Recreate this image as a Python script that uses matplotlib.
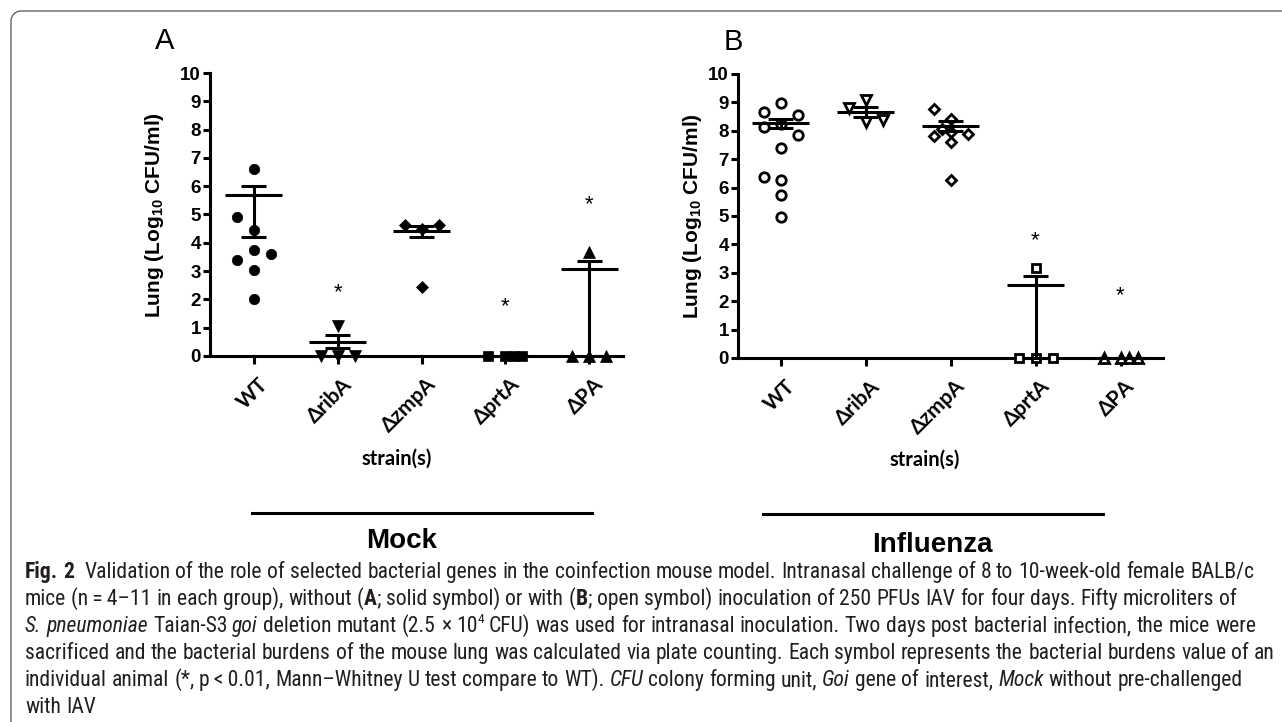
import re
import numpy as np
import matplotlib
matplotlib.use('Agg')
import matplotlib.pyplot as plt
from matplotlib import font_manager
from matplotlib.path import Path
from matplotlib.patches import PathPatch
import matplotlib.transforms as mtransforms

# ---- data (Log10 CFU/ml in lung, one value per animal) ----
strains = ['WT', 'ΔribA', 'ΔzmpA', 'ΔprtA', 'ΔPA']

# A: mock (solid symbols)
mock_wt = [6.6, 4.45, 4.9, 3.75, 3.05, 3.4, 3.6, 2.0]
mock_ribA = [1.05, 0.0, 0.0, 0.0]
mock_zmpA = [4.5, 4.63, 4.63, 2.43]
mock_prtA = [0.0, 0.0, 0.0, 0.0]
mock_PA = [3.67, 0.0, 0.0, 0.0]
mock_mean = [5.7, 0.51, 4.42, 0.0, 3.08]
mock_lo = [4.22, 0.28, 4.22, 0.0, 0.0]
mock_hi = [6.02, 0.74, 4.6, 0.0, 3.37]
mock_star = [None, 2.49, None, 2.0, 5.6]

# B: influenza (open symbols)
flu_wt = [8.98, 8.66, 8.55, 8.25, 8.15, 7.85, 7.4, 6.25, 6.38, 5.75, 4.97]
flu_ribA = [9.08, 8.79, 8.32, 8.38]
flu_zmpA = [8.4, 8.75, 7.6, 7.8, 7.88, 8.05, 6.26, 7.95]
flu_prtA = [3.18, 0.0, 0.0, 0.0]
flu_PA = [0.0, 0.0, 0.0, 0.0]
flu_mean = [8.28, 8.67, 8.17, 2.56, 0.0]
flu_lo = [8.1, 8.5, 8.0, 0.0, 0.0]
flu_hi = [8.43, 8.85, 8.35, 2.88, 0.0]
flu_star = [None, None, None, 4.38, 2.44]

markers = ['o', 'v', 'D', 's', '^']
msizes = [7.5, 8.5, 6.0, 7.0, 8.5]

W, H = 1282, 722
plt.rcParams['font.family'] = ['Liberation Sans', 'DejaVu Sans']
plt.rcParams['mathtext.default'] = 'regular'

names = {f.name for f in font_manager.fontManager.ttflist}
cap_font = 'DejaVu Sans'
for cand in ['Liberation Sans Narrow', 'Roboto Condensed', 'Open Sans Condensed', 'DejaVu Sans']:
    if cand in names:
        cap_font = cand
        break
lbl_font = ['Lato', 'DejaVu Sans'] if 'Lato' in names else ['Open Sans', 'DejaVu Sans']

fig = plt.figure(figsize=(W / 100, H / 100), dpi=100)


def fx(px):
    return px / W


def fy(py):
    return 1 - py / H


def swarm(ax, xc, vals, step=17, mind=13):
    # greedy column scatter in pixel space
    placed = []
    out = []
    for v in vals:
        px, py = ax.transData.transform((xc, v))
        pick = None
        for s in [0, -1, 1]:
            cx = px + s * step
            if all(np.hypot(cx - qx, py - qy) >= mind for qx, qy in placed):
                pick = cx
                break
        if pick is None:
            best = -1
            for s in [0.5, -0.5, 0, -1, 1]:
                cx = px + s * step
                d = min(np.hypot(cx - qx, py - qy) for qx, qy in placed)
                if d > best + 0.01:
                    best, pick = d, cx
        placed.append((pick, py))
        out.append(ax.transData.inverted().transform((pick, py))[0])
    return out


def panel(ax, groups, mean, lo, hi, stars, filled, xlim):
    ax.set_xlim(*xlim)
    ax.set_ylim(0, 10)
    for s in ['top', 'right']:
        ax.spines[s].set_visible(False)
    for s in ['left', 'bottom']:
        ax.spines[s].set_linewidth(2.2)
    ax.set_yticks(range(11))
    ax.set_xticks(range(len(strains)))
    ax.tick_params(axis='y', length=5, width=2.2, pad=1.5, labelsize=13.5)
    ax.tick_params(axis='x', length=6, width=2.2, pad=7)
    plt.setp(ax.get_yticklabels(), fontweight='bold')
    ax.set_xticklabels(strains, rotation=45, ha='right', va='top', rotation_mode='anchor',
                       fontsize=15, fontweight='bold', family=lbl_font)
    off = mtransforms.ScaledTranslation(4 / 100, 0, fig.dpi_scale_trans)
    for t in ax.get_xticklabels():
        t.set_transform(t.get_transform() + off)

    for i, vals in enumerate(groups):
        xs = swarm(ax, i, vals)
        if filled:
            ax.plot(xs, vals, ls='none', marker=markers[i], ms=msizes[i], mfc='k', mec='k',
                    mew=0.5, clip_on=False, zorder=3)
        else:
            ax.plot(xs, vals, ls='none', marker=markers[i], ms=msizes[i] - 0.7, mfc='white', mec='k',
                    mew=2.0, clip_on=False, zorder=3)
        ax.hlines(mean[i], i - 0.34, i + 0.34, color='k', lw=2.2, zorder=4, clip_on=False)
        if hi[i] > lo[i]:
            ax.vlines(i, lo[i], hi[i], color='k', lw=2.2, zorder=4, clip_on=False)
            ax.hlines([lo[i], hi[i]], i - 0.15, i + 0.15, color='k', lw=2.2, zorder=4, clip_on=False)
        if stars[i] is not None:
            ax.annotate('*', (i, stars[i]), xytext=(0, -9), textcoords='offset points',
                        ha='center', va='baseline', fontsize=16)


axA = fig.add_axes([fx(210), fy(356), (623 - 210) / W, (356 - 73) / H])
axB = fig.add_axes([fx(738), fy(358), (1163 - 738) / W, (358 - 74) / H])

panel(axA, [mock_wt, mock_ribA, mock_zmpA, mock_prtA, mock_PA],
      mock_mean, mock_lo, mock_hi, mock_star, True, (-0.52, 4.4))
panel(axB, [flu_wt, flu_ribA, flu_zmpA, flu_prtA, flu_PA],
      flu_mean, flu_lo, flu_hi, flu_star, False, (-0.5, 4.5))

ylab = 'Lung (Log$_{10}$ CFU/ml)'
fig.text(fx(154), fy(215), ylab, rotation=90, ha='center', va='center', fontsize=15, fontweight='bold')
fig.text(fx(692), fy(216), ylab, rotation=90, ha='center', va='center', fontsize=15, fontweight='bold')

fig.text(fx(165), fy(49), 'A', ha='center', va='baseline', fontsize=21)
fig.text(fx(733), fy(50), 'B', ha='center', va='baseline', fontsize=21)

fig.text(fx(397), fy(465), 'strain(s)', ha='center', va='baseline', fontsize=14.5,
         fontweight='bold', family=lbl_font)
fig.text(fx(925), fy(466), 'strain(s)', ha='center', va='baseline', fontsize=14.5,
         fontweight='bold', family=lbl_font)

fig.add_artist(plt.Line2D([fx(252), fx(592)], [fy(513), fy(513)], color='k', lw=2.2))
fig.add_artist(plt.Line2D([fx(763), fx(1103)], [fy(514), fy(514)], color='k', lw=2.2))
fig.text(fx(402), fy(548), 'Mock', ha='center', va='baseline', fontsize=20, fontweight='bold')
fig.text(fx(932), fy(552), 'Influenza', ha='center', va='baseline', fontsize=20, fontweight='bold')

# frame (rounded top-left corner)
ang = np.linspace(np.pi, 1.5 * np.pi, 12)
pts = [(11, H + 2)] + [(21 + 10 * np.cos(a), 21 + 10 * np.sin(a)) for a in ang] + [(W + 2, 11)]
frame = PathPatch(Path([(fx(x), fy(y)) for x, y in pts]), transform=fig.transFigure,
                  fill=False, edgecolor='#555555', lw=0.9)
fig.add_artist(frame)

# caption
cap_lines = [
    [('Fig. 2', 'b'), ('  Validation of the role of selected bacterial genes in the coinfection mouse model. '
                      'Intranasal challenge of 8 to 10-week-old female BALB/c', 'n')],
    [('mice (n\u2009=\u20094\u201311 in each group), without (', 'n'), ('A', 'b'),
     ('; solid symbol) or with (', 'n'), ('B', 'b'),
     ('; open symbol) inoculation of 250 PFUs IAV for four days. Fifty microliters of', 'n')],
    [('S. pneumoniae', 'i'), (' Taian-S3 ', 'n'), ('goi', 'i'), (' deletion mutant (2.5 \u00d7 10', 'n'),
     ('4', 'sup'), (' CFU) was used for intranasal inoculation. Two days post bacterial infection, the mice were', 'n')],
    [('sacrificed and the bacterial burdens of the mouse lung was calculated via plate counting. '
      'Each symbol represents the bacterial burdens value of an', 'n')],
    [('individual animal (*, p\u2009<\u20090.01, Mann\u2013Whitney U test compare to WT). ', 'n'), ('CFU', 'i'),
     (' colony forming unit, ', 'n'), ('Goi', 'i'), (' gene of interest, ', 'n'), ('Mock', 'i'),
     (' without pre-challenged', 'n')],
    [('with IAV', 'n')],
]
cap_base = [578, 605, 632, 659, 686, 713]

renderer = fig.canvas.get_renderer()


def props(style, size):
    kw = dict(family=cap_font, fontsize=size, color='#231f20', ha='left', va='baseline')
    if style == 'b':
        kw['fontweight'] = 'bold'
    if style == 'i':
        kw['fontstyle'] = 'italic'
    if style == 'sup':
        kw['fontsize'] = size * 0.62
    return kw


def width_of(s, kw):
    t = fig.text(0, 0, s, **kw)
    w = t.get_window_extent(renderer).width
    t.remove()
    return w


def draw_line(runs, x0, base, size, draw=True):
    x = x0
    for txt, st in runs:
        kw = props(st, size)
        sp = width_of('a a', kw) - width_of('aa', kw)
        yb = base - (size * 0.42 * 100 / 72 if st == 'sup' else 0)
        for tok in re.split(r'( )', txt):
            if tok == '':
                continue
            if tok == ' ':
                x += sp
                continue
            if draw:
                t = fig.text(fx(x), fy(yb), tok, **kw)
                x += t.get_window_extent(renderer).width
            else:
                x += width_of(tok, kw)
    return x


size = 13.0
target = 1271 - 25
w = draw_line(cap_lines[3], 25, 0, size, draw=False) - 25
size = size * target / w

for runs, b in zip(cap_lines, cap_base):
    draw_line(runs, 25, b, size)

fig.savefig('out.png', dpi=100)
